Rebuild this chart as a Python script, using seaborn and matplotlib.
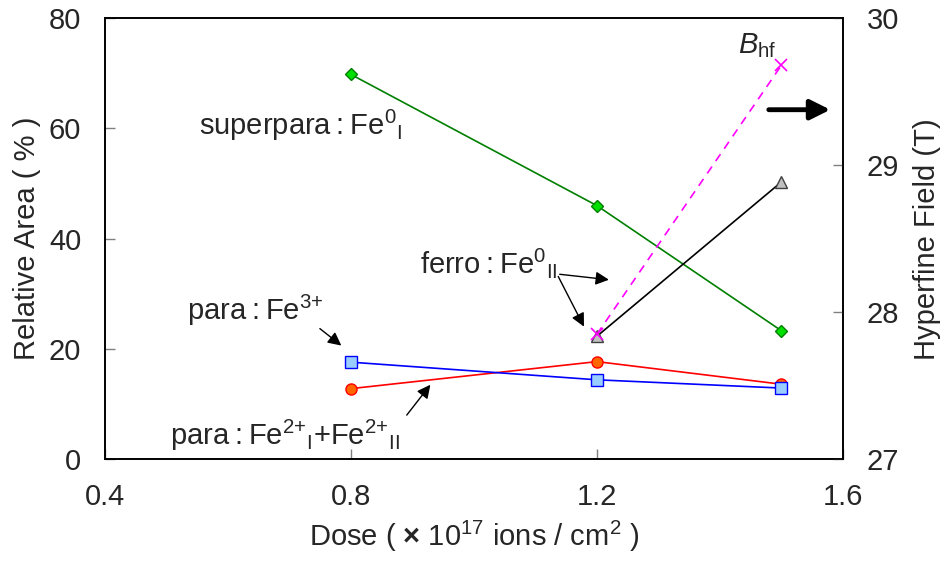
import numpy as np
import pandas as pd
import matplotlib
matplotlib.use("Agg")
import matplotlib.pyplot as plt
import seaborn as sns

# Dose (x10^17 ions/cm^2)
dose = [0.8, 1.2, 1.5]
dose_ferro = [1.2, 1.5]

# Relative areas (%)
superpara_fe0 = [69.8, 46.0, 23.3]
para_fe3 = [17.6, 14.4, 12.9]
para_fe2 = [12.8, 17.7, 13.6]
ferro_fe0 = [22.3, 50.3]

# Hyperfine field (T)
b_hf = [27.85, 29.68]

sns.set_style("ticks")
plt.rcParams["font.family"] = ["Liberation Sans", "DejaVu Sans"]
plt.rcParams["mathtext.fontset"] = "custom"
plt.rcParams["mathtext.rm"] = "Liberation Sans"
plt.rcParams["mathtext.it"] = "Liberation Sans:italic"
plt.rcParams["mathtext.bf"] = "Liberation Sans:bold"

fig = plt.figure(figsize=(9.45, 5.69), dpi=100)
ax = fig.add_axes([0.111, 0.193, 0.781, 0.775])
ax2 = ax.twinx()

fs = 21

df_sp = pd.DataFrame({"dose": dose, "area": superpara_fe0})
df_p3 = pd.DataFrame({"dose": dose, "area": para_fe3})
df_p2 = pd.DataFrame({"dose": dose, "area": para_fe2})
df_fe = pd.DataFrame({"dose": dose_ferro, "area": ferro_fe0})
df_b = pd.DataFrame({"dose": dose_ferro, "field": b_hf})

sns.lineplot(data=df_sp, x="dose", y="area", ax=ax, color="#008000", lw=1.2,
             marker="D", markersize=6, markerfacecolor="#00e000",
             markeredgecolor="#008000", markeredgewidth=1)
sns.lineplot(data=df_p3, x="dose", y="area", ax=ax, color="#0000ff", lw=1.2,
             marker="s", markersize=8, markerfacecolor="#99ccff",
             markeredgecolor="#0000ff", markeredgewidth=1)
sns.lineplot(data=df_p2, x="dose", y="area", ax=ax, color="#ff0000", lw=1.2,
             marker="o", markersize=8, markerfacecolor="#ff6600",
             markeredgecolor="#ff0000", markeredgewidth=1, zorder=1)
sns.lineplot(data=df_fe, x="dose", y="area", ax=ax, color="black", lw=1.2,
             marker="^", markersize=8, markerfacecolor="#c0c0c0",
             markeredgecolor="#404040", markeredgewidth=1)
sns.lineplot(data=df_b, x="dose", y="field", ax=ax2, color="#ff00ff", lw=1.2,
             linestyle=(0, (5, 4)), marker="x", markersize=9,
             markeredgecolor="#ff00ff", markeredgewidth=1.2)

ax.set_xlim(0.4, 1.6)
ax.set_ylim(0, 80)
ax2.set_ylim(27, 30)
ax.set_xticks([0.4, 0.8, 1.2, 1.6])
ax.set_xticklabels(["0.4", "0.8", "1.2", "1.6"])
ax.set_yticks([0, 20, 40, 60, 80])
ax2.set_yticks([27, 28, 29, 30])

for a in (ax, ax2):
    for s in a.spines.values():
        s.set_visible(True)
        s.set_color("black")
        s.set_linewidth(1.2)
ax.tick_params(axis="both", direction="in", length=7, width=1, color="#808080",
               labelsize=fs, pad=17, top=False, right=False)
ax2.tick_params(axis="y", direction="in", length=7, width=1, color="#808080",
                labelsize=fs, pad=17)

ax.set_xlabel(r"Dose ( $\mathbf{\times}$ 10$^{17}$ ions / cm$^{2}$ )", fontsize=fs, labelpad=6)
ax.set_ylabel("Relative Area ( % )", fontsize=fs, labelpad=6)
ax2.set_ylabel("Hyperfine Field (T)", fontsize=fs, labelpad=10)

# Series labels
sep = "\u2009:\u2009"
ax.text(0.553, 60.5, "superpara" + sep + r"Fe$^{0}{}_{\rm I}$", fontsize=fs,
        ha="left", va="center")
ax.text(0.912, 35.6, "ferro" + sep + r"Fe$^{0}{}_{\rm II}$", fontsize=fs,
        ha="left", va="center")
ax.text(0.533, 27.0, "para" + sep + r"Fe$^{\text{3+}}$", fontsize=fs,
        ha="left", va="center")
ax.text(0.506, 4.3, "para" + sep + r"Fe$^{\text{2+}}{}_{\rm I}$+Fe$^{\text{2+}}{}_{\rm II}$",
        fontsize=fs, ha="left", va="center")
ax.text(1.43, 75.0, r"$B_{\rm hf}$", fontsize=fs, ha="left", va="center")

arrow = dict(arrowstyle="-|>", color="black", lw=1.0, mutation_scale=20)
ax.annotate("", xy=(1.224, 32.5), xytext=(1.135, 33.6), arrowprops=arrow)
ax.annotate("", xy=(1.181, 23.6), xytext=(1.135, 33.6), arrowprops=arrow)
ax.annotate("", xy=(0.788, 20.3), xytext=(0.746, 24.0), arrowprops=arrow)
ax.annotate("", xy=(0.932, 13.9), xytext=(0.888, 7.6), arrowprops=arrow)
ax.annotate("", xy=(1.584, 63.4), xytext=(1.475, 63.4),
            arrowprops=dict(arrowstyle="-|>", color="black", lw=3.5, mutation_scale=30))

fig.savefig("out.png", dpi=100)
